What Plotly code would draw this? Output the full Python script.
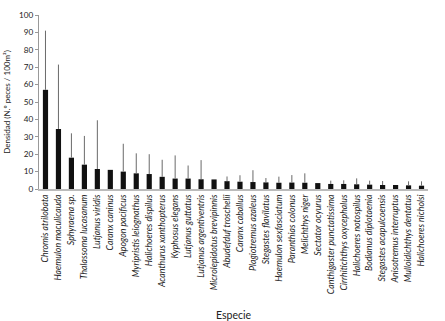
import plotly.graph_objects as go

species = [
    "Chromis atrilobata", "Haemulon maculicauda", "Sphyraena sp.", "Thalassoma lucasanum",
    "Lutjanus viridis", "Caranx caninus", "Apogon pacificus", "Myripristis leiognathus",
    "Halichoeres dispilus", "Acanthurus xanthopterus", "Kyphosus elegans", "Lutjanus guttatus",
    "Lutjanus argentiventris", "Microlepidotus brevipinnis", "Abudefduf troschelii",
    "Caranx caballus", "Plagiotremus azaleus", "Stegastes flavilatus", "Haemulon sexfasciatum",
    "Paranthias colonus", "Melichthys niger", "Sectator ocyurus", "Canthigaster punctatissima",
    "Cirrhitichthys oxycephalus", "Halichoeres notospilus", "Bodianus diplotaenia",
    "Stegastes acapulcoensis", "Anisotremus interruptus", "Mulloidichthys dentatus",
    "Halichoeres nicholsi",
]
density = [57, 34.5, 18, 14, 11.5, 11, 10, 9, 8.6, 7, 6, 6, 5.6, 5.5, 4.5,
           4.2, 4.0, 3.8, 3.6, 3.7, 3.6, 3.4, 2.9, 2.9, 2.7, 2.5, 2.3, 2.3, 2.1, 1.9]
upper = [91, 71.5, 32, 30.5, 39.5, 11, 26, 20.5, 20, 16.8, 19.3, 13.5, 16.6, 5.5, 7.2,
         7.9, 10.8, 6.3, 7.1, 8.0, 9.0, 3.4, 4.8, 5.0, 6.1, 4.8, 4.6, 2.3, 4.4, 4.4]
yticks = [0, 10, 20, 30, 40, 50, 60, 70, 80, 90, 100]

plus = [u - d for u, d in zip(upper, density)]

fig = go.Figure()
fig.add_trace(go.Bar(
    x=species, y=density,
    marker=dict(color="#111111", line=dict(width=0)),
    error_y=dict(type="data", symmetric=False, array=plus,
                 arrayminus=[0] * len(plus), color="#6a6a6a",
                 thickness=1, width=0),
))

fig.update_layout(
    width=445, height=321,
    margin=dict(l=38.5, r=16.5, t=15, b=132),
    plot_bgcolor="white", paper_bgcolor="white",
    bargap=0.6, showlegend=False,
    font=dict(family="Lato", color="#222222"),
)
fig.update_xaxes(
    type="category", range=[-0.5, 29.5], automargin=False,
    tickangle=-90, ticks="",
    tickfont=dict(family="Lato", size=8.8, style="italic", color="#222222"),
    showline=True, linecolor="#bbbbbb", linewidth=2,
    showgrid=False, zeroline=False,
    title=dict(text="Especie", font=dict(size=10.5, color="#222222"), standoff=21),
)
fig.update_yaxes(
    range=[0, 100], tickvals=yticks, ticks="outside", ticklen=3, tickcolor="#999999",
    automargin=False,
    tickfont=dict(size=8.2, color="#222222"),
    showline=True, linecolor="#999999", linewidth=1,
    showgrid=False, zeroline=False,
    title=dict(text="Densidad (N.º peces / 100m²)", font=dict(size=8, color="#222222"), standoff=7),
)

fig.write_html(
    "out.html",
    config={"displayModeBar": False},
    post_script="document.body.style.margin='0';document.body.style.overflow='hidden';",
)
